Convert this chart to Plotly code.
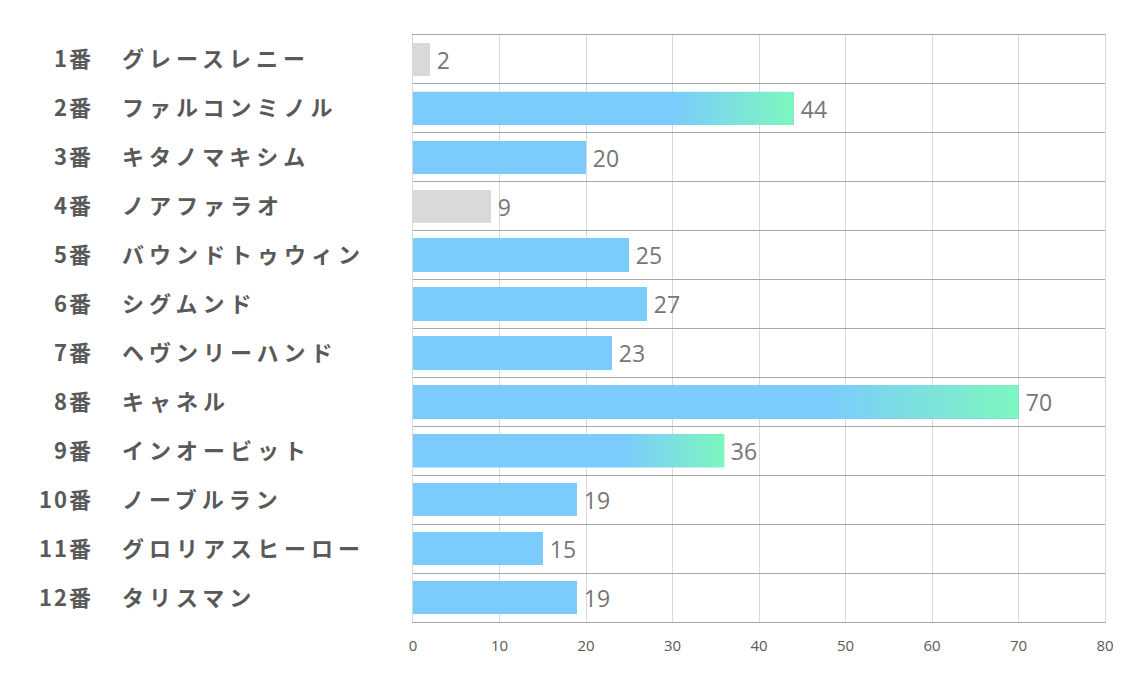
import plotly.graph_objects as go

numbers = ["1番", "2番", "3番", "4番", "5番", "6番", "7番", "8番", "9番", "10番", "11番", "12番"]
names = ["グレースレニー", "ファルコンミノル", "キタノマキシム", "ノアファラオ", "バウンドトゥウィン",
         "シグムンド", "ヘヴンリーハンド", "キャネル", "インオービット", "ノーブルラン",
         "グロリアスヒーロー", "タリスマン"]
values = [2, 44, 20, 9, 25, 27, 23, 70, 36, 19, 15, 19]
kinds = ["gray", "grad", "blue", "gray", "blue", "blue", "blue", "grad", "grad", "blue", "blue", "blue"]
x_ticks = [0, 10, 20, 30, 40, 50, 60, 70, 80]

BLUE = "#7BCBFD"
GREEN = "#7DF7BE"
GRAY = "#D9D9D9"
BAR_W = 0.68

idx = list(range(len(values)))
colors = [GRAY if k == "gray" else BLUE for k in kinds]

fig = go.Figure()
fig.add_trace(go.Bar(
    y=idx, x=values, orientation="h", width=BAR_W,
    marker=dict(color=colors, line=dict(width=0)),
    texttemplate="\u2009%{x}", textposition="outside",
    textfont=dict(family="Open Sans", size=23, color="#767676"),
    cliponaxis=False, hoverinfo="skip",
))

# gradient overlays
for i, (v, k) in enumerate(zip(values, kinds)):
    if k != "grad":
        continue
    h = BAR_W / 2
    fig.add_trace(go.Scatter(
        x=[0, v, v, 0, 0], y=[i - h, i - h, i + h, i + h, i - h],
        mode="lines", line=dict(width=0), fill="toself",
        fillgradient=dict(type="horizontal", start=0, stop=v,
                          colorscale=[[0, BLUE], [0.68, BLUE], [1, GREEN]]),
        hoverinfo="skip", showlegend=False,
    ))

PLOT_W = 1134 - 405 - 37
lab_font = dict(family="Noto Sans CJK JP", size=22, color="#595959", weight="bold")
ann = []
for i, (n, nm) in enumerate(zip(numbers, names)):
    ann.append(dict(x=(95 - 413) / PLOT_W, y=i, xref="paper", yref="y", yshift=2,
                    text=f'<span style="letter-spacing:2px">{n}</span>', showarrow=False,
                    xanchor="right", yanchor="middle", font=lab_font))
    ann.append(dict(x=(120 - 413) / PLOT_W, y=i, xref="paper", yref="y", yshift=2,
                    text=f'<span style="letter-spacing:5px">{nm}</span>', showarrow=False,
                    xanchor="left", yanchor="middle", font=lab_font))

fig.update_layout(
    width=1134, height=680,
    margin=dict(l=405, r=37, t=27, b=66),
    paper_bgcolor="white", plot_bgcolor="white",
    showlegend=False, annotations=ann,
    bargap=0,
)
fig.update_xaxes(range=[0, 80], tickvals=x_ticks, showgrid=True, gridcolor="#D9D9D9", gridwidth=1,
                 zeroline=False, showline=True, linecolor="#A6A6A6", mirror=True,
                 ticks="", tickfont=dict(family="Open Sans", size=15, color="#595959"),
                 ticklabelstandoff=10)
fig.update_yaxes(range=[11.5, -0.5], tickvals=[i - 0.5 for i in range(len(values) + 1)],
                 showticklabels=False, showgrid=True, gridcolor="#A6A6A6", gridwidth=1,
                 zeroline=False, showline=True, linecolor="#D9D9D9", mirror=True, ticks="")

fig.write_html("out.html")
